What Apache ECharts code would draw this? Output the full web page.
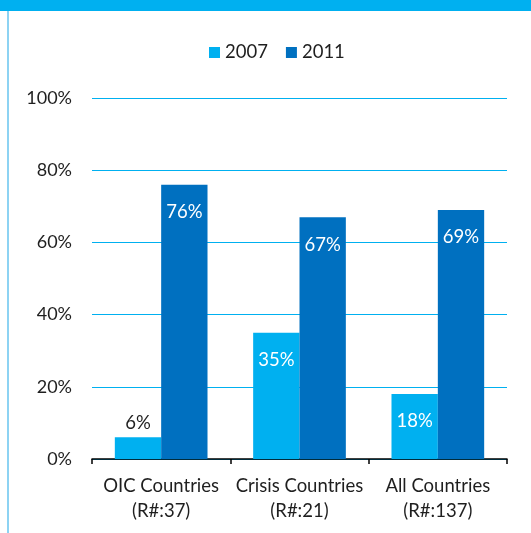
<!DOCTYPE html>
<html>
<head>
<meta charset="utf-8">
<script src="https://cdn.jsdelivr.net/npm/echarts@6/dist/echarts.min.js"></script>
<style>
  html, body { margin: 0; padding: 0; background: #fff; }
  #chart { width: 531px; height: 533px; }
</style>
</head>
<body>
<div id="chart"></div>
<script>
// Share of countries, 2007 vs 2011
const categories = ['OIC Countries\n(R#:37)', 'Crisis Countries\n(R#:21)', 'All Countries\n(R#:137)'];
const series2007 = [6, 35, 18];
const series2011 = [76, 67, 69];
const yTicks = [0, 20, 40, 60, 80, 100];

const FONT = 'Lato, "Liberation Sans", sans-serif';
const TEXT = '#1f1f1f';

const chart = echarts.init(document.getElementById('chart'), null, { renderer: 'canvas' });

// 2007 labels: small values sit above the bar, others inside near the top
const data2007 = series2007.map(v => v < 10
  ? { value: v, label: { position: 'top', distance: 5, color: TEXT } }
  : { value: v });

chart.setOption({
  animation: false,
  textStyle: { fontFamily: FONT },
  graphic: [
    { type: 'rect', shape: { x: 0, y: 0, width: 531, height: 11 }, style: { fill: '#00B0F0' } },
    { type: 'rect', shape: { x: 7, y: 11, width: 2, height: 522 }, style: { fill: '#8DD3F3' } }
  ],
  legend: {
    top: 38,
    left: 204,
    itemWidth: 11,
    itemHeight: 11,
    itemGap: 18,
    icon: 'rect',
    textStyle: { fontSize: 18.5, color: TEXT, fontFamily: FONT, padding: [0, 0, 0, 0] },
    data: ['2007', '2011']
  },
  grid: { left: 92, right: 24, top: 98, bottom: 74, containLabel: false },
  xAxis: {
    type: 'category',
    data: categories,
    axisLine: { lineStyle: { color: '#000', width: 1.5 } },
    axisTick: { show: true, length: 5, lineStyle: { color: '#000', width: 1.5 } },
    axisLabel: { color: TEXT, fontSize: 18.5, lineHeight: 25, margin: 14.5, fontFamily: FONT, interval: 0 }
  },
  yAxis: {
    type: 'value',
    min: yTicks[0],
    max: yTicks[yTicks.length - 1],
    interval: 20,
    axisLine: { show: false },
    axisTick: { show: false },
    axisLabel: { color: TEXT, fontSize: 18, margin: 20, fontFamily: FONT, formatter: '{value}%' },
    splitLine: { lineStyle: { color: '#00B0F0', width: 1 } }
  },
  series: [
    {
      name: '2007',
      type: 'bar',
      data: data2007,
      barGap: '0%',
      barCategoryGap: '33%',
      itemStyle: { color: '#00B0F0' },
      label: { show: true, position: 'insideTop', distance: 18, color: '#fff', fontSize: 18.5, fontFamily: FONT, formatter: '{c}%' }
    },
    {
      name: '2011',
      type: 'bar',
      data: series2011,
      barGap: '0%',
      barCategoryGap: '33%',
      itemStyle: { color: '#0070C0' },
      label: { show: true, position: 'insideTop', distance: 18, color: '#fff', fontSize: 18.5, fontFamily: FONT, formatter: '{c}%' }
    }
  ]
});
</script>
</body>
</html>
